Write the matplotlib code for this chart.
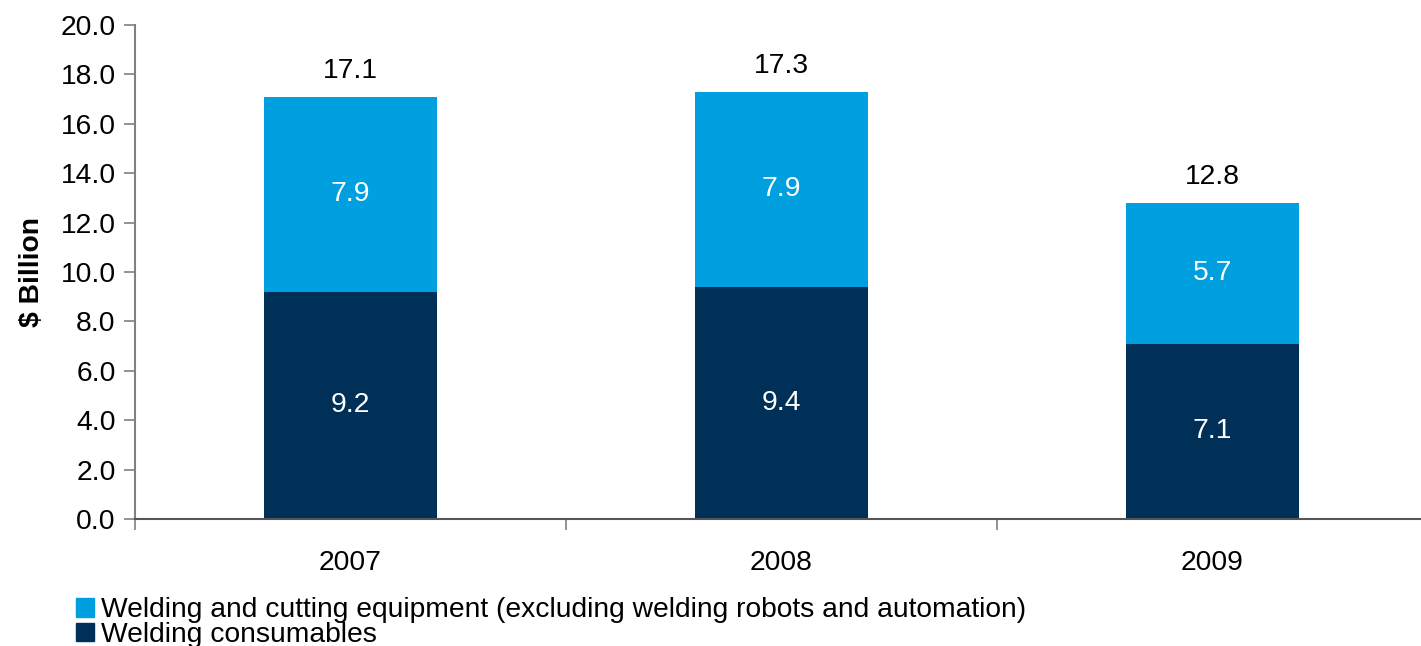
import matplotlib.pyplot as plt
from matplotlib.patches import Patch

years = ["2007", "2008", "2009"]
consumables = [9.2, 9.4, 7.1]
equipment = [7.9, 7.9, 5.7]
totals = [17.1, 17.3, 12.8]

light_blue = "#009fdf"
navy = "#003057"
axis_grey = "#808080"
fs = 20.3

plt.rcParams["font.family"] = ["Liberation Sans", "DejaVu Sans"]

fig = plt.figure(figsize=(14.21, 6.46), dpi=100)
ax = fig.add_axes([135 / 1421, 1 - 519 / 646, 1 - 135 / 1421, (519 - 25) / 646])

x = list(range(len(years)))
ax.bar(x, consumables, width=0.4, color=navy, zorder=2)
ax.bar(x, equipment, width=0.4, bottom=consumables, color=light_blue, zorder=2)

# segment values in white, totals above the bars
for i in x:
    ax.text(i, consumables[i] / 2, f"{consumables[i]:.1f}", ha="center", va="center",
            color="white", fontsize=fs)
    ax.text(i, consumables[i] + equipment[i] / 2, f"{equipment[i]:.1f}", ha="center",
            va="center", color="white", fontsize=fs)
    ax.text(i, totals[i] + 1.05, f"{totals[i]:.1f}", ha="center", va="center",
            color="black", fontsize=fs)

ax.set_xlim(-0.5, 2.484)
ax.set_ylim(0, 20)
ax.set_yticks([v * 2.0 for v in range(11)])
ax.set_yticklabels([f"{v * 2.0:.1f}" for v in range(11)], fontsize=fs)
ax.tick_params(axis="y", direction="out", length=8, width=1.2, color=axis_grey, pad=6)

ax.set_xticks(x)
ax.set_xticklabels(years, fontsize=fs)
ax.set_xticks([-0.5, 0.5, 1.5], minor=True)
ax.tick_params(axis="x", which="major", length=0, pad=22)
ax.tick_params(axis="x", which="minor", direction="out", length=8, width=1.2, color=axis_grey)

for side in ["top", "right"]:
    ax.spines[side].set_visible(False)
ax.spines["left"].set_color(axis_grey)
ax.spines["left"].set_linewidth(1.5)
ax.spines["bottom"].set_color("#555555")
ax.spines["bottom"].set_linewidth(1.5)

ax.set_ylabel("$ Billion", fontsize=fs, fontweight="bold")
ax.yaxis.set_label_coords(-0.070, 0.5)

handles = [
    Patch(color=light_blue, label="Welding and cutting equipment (excluding welding robots and automation)"),
    Patch(color=navy, label="Welding consumables"),
]
fig.legend(handles=handles, loc="lower left", bbox_to_anchor=(76 / 1421, -0.003),
           frameon=False, fontsize=fs, handlelength=0.65, handleheight=0.65,
           handletextpad=0.25, labelspacing=-0.05, borderpad=0, borderaxespad=0)

fig.savefig("out.png", dpi=100)
